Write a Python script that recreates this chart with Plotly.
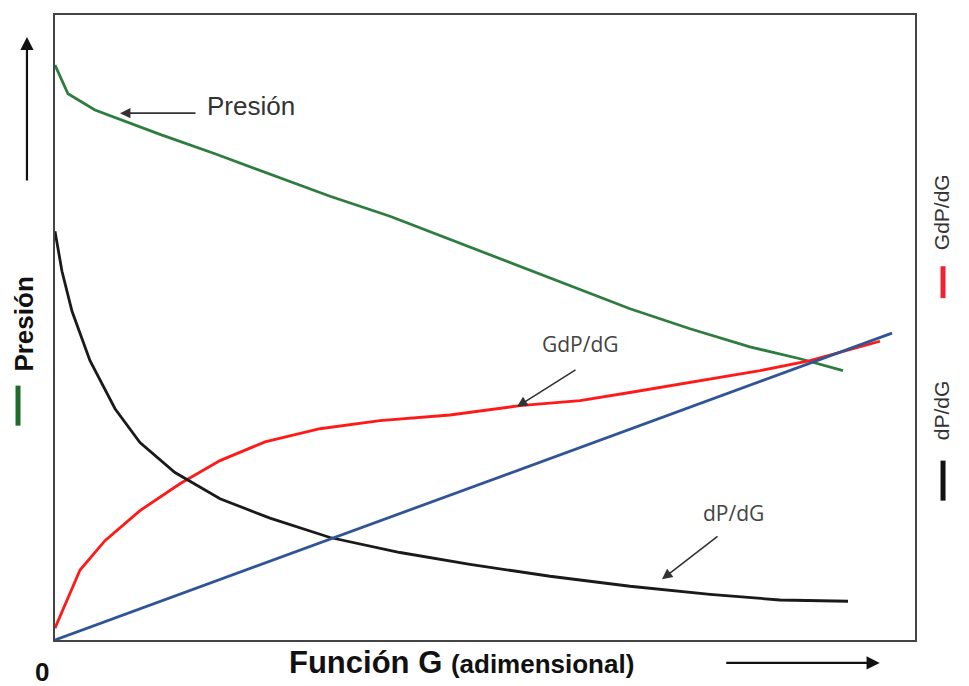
import plotly.graph_objects as go

# Función G (adimensional) positions and curve values (normalized units 0-10)
pres_x = [0, 0.151, 0.465, 0.756, 1.221, 1.860, 2.50, 3.198, 3.895, 4.593, 5.29, 5.988, 6.686, 7.384, 8.08, 8.663, 9.163]
pres_y = [9.20, 8.74, 8.48, 8.33, 8.09, 7.78, 7.45, 7.10, 6.78, 6.41, 6.03, 5.66, 5.30, 4.98, 4.69, 4.50, 4.31]

gdp_x = [0, 0.116, 0.291, 0.581, 0.988, 1.453, 1.919, 2.442, 3.081, 3.779, 4.593, 5.407, 6.105, 6.686, 7.50, 8.198, 8.779, 9.593]
gdp_y = [0.19, 0.56, 1.12, 1.59, 2.07, 2.50, 2.87, 3.17, 3.38, 3.51, 3.60, 3.75, 3.83, 3.96, 4.15, 4.31, 4.47, 4.78]

dp_x = [0, 0.081, 0.198, 0.407, 0.698, 0.988, 1.395, 1.919, 2.50, 3.198, 4.012, 4.826, 5.756, 6.686, 7.616, 8.430, 9.221]
dp_y = [6.54, 5.90, 5.26, 4.47, 3.70, 3.16, 2.68, 2.26, 1.95, 1.64, 1.40, 1.21, 1.02, 0.86, 0.73, 0.64, 0.62]

lin_x = [0, 9.733]
lin_y = [0, 4.91]

fig = go.Figure()
fig.add_trace(go.Scatter(x=pres_x, y=pres_y, mode="lines", line=dict(color="#2e7d3e", width=2.8), name="Presión"))
fig.add_trace(go.Scatter(x=gdp_x, y=gdp_y, mode="lines", line=dict(color="#ff1a1a", width=2.8), name="GdP/dG"))
fig.add_trace(go.Scatter(x=dp_x, y=dp_y, mode="lines", line=dict(color="#1a1a1a", width=2.8), name="dP/dG"))
fig.add_trace(go.Scatter(x=lin_x, y=lin_y, mode="lines", line=dict(color="#2f5597", width=2.8), name="lineal"))

ann_font = dict(family="Open Sans, Arial", size=21, color="#444")
arrow = dict(showarrow=True, arrowhead=2, arrowsize=1.3, arrowwidth=1.6, arrowcolor="#333", text="")
C = dict(xanchor="center", yanchor="middle", showarrow=False)
annotations = [
    # Presión label with arrow
    dict(x=0.756, y=8.43, ax=1.651, ay=8.43, xref="x", yref="y", axref="x", ayref="y", **arrow),
    dict(x=1.744, y=8.55, xref="x", yref="y", text="Presión", showarrow=False, xanchor="left", yanchor="middle",
         font=dict(family="Liberation Sans, Arial", size=26, color="#333")),
    # GdP/dG
    dict(x=5.372, y=3.732, ax=6.070, ay=4.338, xref="x", yref="y", axref="x", ayref="y", **arrow),
    dict(x=6.116, y=4.737, xref="x", yref="y", text="GdP/dG", font=ann_font, **C),
    # dP/dG
    dict(x=7.058, y=0.973, ax=7.721, ay=1.675, xref="x", yref="y", axref="x", ayref="y", **arrow),
    dict(x=7.884, y=2.04, xref="x", yref="y", text="dP/dG", font=ann_font, **C),
    # Up arrow (left, outside plot)
    dict(x=-0.0326, y=0.965, ax=0, ay=145, xref="paper", yref="paper", axref="pixel", ayref="pixel",
         showarrow=True, arrowhead=2, arrowsize=1.2, arrowwidth=2.2, arrowcolor="#111", text=""),
    # Right arrow (bottom, outside plot)
    dict(x=0.959, y=-0.0367, ax=-155, ay=0, xref="paper", yref="paper", axref="pixel", ayref="pixel",
         showarrow=True, arrowhead=2, arrowsize=1.2, arrowwidth=2.2, arrowcolor="#111", text=""),
    # Left vertical title
    dict(x=-0.0365, y=0.5056, xref="paper", yref="paper", text="<b>Presión</b>", textangle=-90,
         font=dict(family="Liberation Sans, Arial", size=26, color="#111"), **C),
    # Right vertical labels
    dict(x=1.031, y=0.684, xref="paper", yref="paper", text="GdP/dG", textangle=-90,
         font=dict(family="Liberation Sans, Arial", size=21, color="#333"), **C),
    dict(x=1.031, y=0.367, xref="paper", yref="paper", text="dP/dG", textangle=-90,
         font=dict(family="Liberation Sans, Arial", size=21, color="#333"), **C),
    # 0 and x title
    dict(x=-0.0151, y=-0.051, xref="paper", yref="paper", text="<b>0</b>",
         font=dict(family="Liberation Sans, Arial", size=26, color="#111"), **C),
    dict(x=0.473, y=-0.036, xref="paper", yref="paper",
         text="<b>Función G </b><b><span style='font-size:26px'>(adimensional)</span></b>",
         font=dict(family="Liberation Sans, Arial", size=31, color="#111"), **C),
]

shapes = [
    dict(type="line", xref="paper", yref="paper", x0=-0.043, x1=-0.043, y0=0.343, y1=0.407,
         line=dict(color="#1e6b2a", width=5)),
    dict(type="line", xref="paper", yref="paper", x0=1.0326, x1=1.0326, y0=0.547, y1=0.598,
         line=dict(color="#ee2233", width=5)),
    dict(type="line", xref="paper", yref="paper", x0=1.0326, x1=1.0326, y0=0.223, y1=0.287,
         line=dict(color="#111", width=5)),
]

fig.update_layout(
    width=961, height=678,
    margin=dict(l=47, r=54, t=5, b=46),
    paper_bgcolor="white", plot_bgcolor="white",
    showlegend=False,
    annotations=annotations,
    shapes=shapes,
)
fig.update_xaxes(range=[0, 10], showgrid=False, zeroline=False, showticklabels=False, ticks="",
                 showline=True, mirror=True, linecolor="#444", linewidth=2)
fig.update_yaxes(range=[0, 10], showgrid=False, zeroline=False, showticklabels=False, ticks="",
                 showline=True, mirror=True, linecolor="#444", linewidth=2)

fig.write_html("out.html")
